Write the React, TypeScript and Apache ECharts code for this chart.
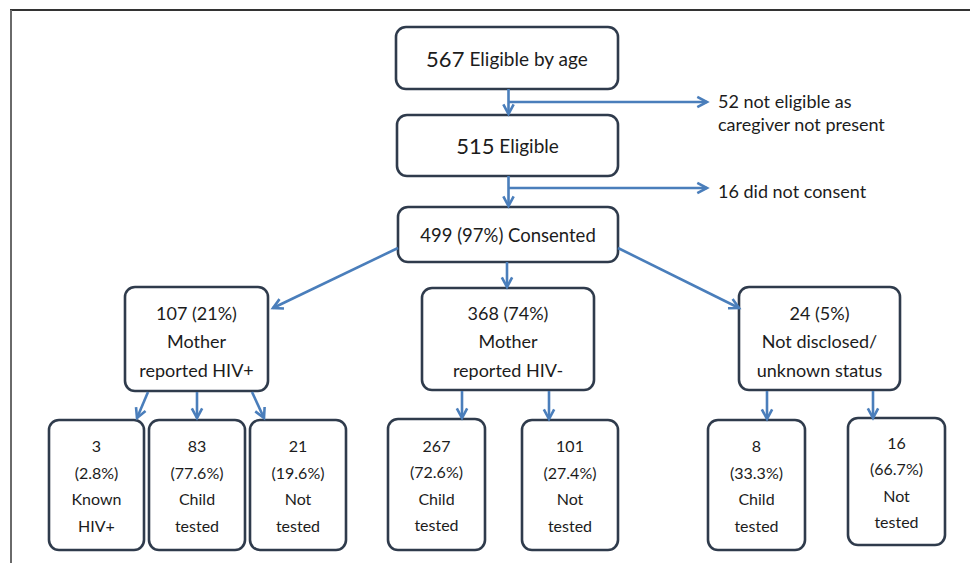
import React, { useEffect, useRef } from "react";
import * as echarts from "echarts";

// ---- data ----
const stageCounts = [567, 515, 499];
const stageLabels = ["Eligible by age", "Eligible", "(97%) Consented"];
const excludedCounts = [52, 16];
const excludedLabels = [["not eligible as", "caregiver not present"], ["did not consent"]];
const groupCounts = [107, 368, 24];
const groupPercents = ["21%", "74%", "5%"];
const groupLabels = [
  ["Mother", "reported HIV+"],
  ["Mother", "reported HIV-"],
  ["Not disclosed/", "unknown status"],
];
const outcomeCounts = [[3, 83, 21], [267, 101], [8, 16]];
const outcomePercents = [["2.8%", "77.6%", "19.6%"], ["72.6%", "27.4%"], ["33.3%", "66.7%"]];
const outcomeLabels = [
  [["Known", "HIV+"], ["Child", "tested"], ["Not", "tested"]],
  [["Child", "tested"], ["Not", "tested"]],
  [["Child", "tested"], ["Not", "tested"]],
];

// ---- layout (positions only) ----
const stageBoxes = [
  [396, 27, 222, 62],
  [397, 115, 221, 61],
  [398, 207, 220, 55],
];
const groupBoxes = [
  [125, 287, 143, 104],
  [422, 288, 172, 102],
  [739, 287, 161, 103],
];
const outcomeBoxes = [
  [[49, 420, 95, 130], [149, 420, 96, 130], [250, 420, 96, 130]],
  [[388, 419, 97, 131], [522, 420, 96, 130]],
  [[708, 420, 97, 130], [848, 418, 97, 127]],
];
const exclusionArrowY = [102, 188];
const exclusionText = [[718, 101], [718, 191]];

const BOX = "#2f3b4c";
const ARROW = "#4a7ebb";
const TXT = "#1c1c1c";
const FONT = "Lato";

function arrow(x1: number, y1: number, x2: number, y2: number): any[] {
  const ang = Math.atan2(y2 - y1, x2 - x1);
  const L = 11;
  const a = (28 * Math.PI) / 180;
  const p1 = [x2 - L * Math.cos(ang - a), y2 - L * Math.sin(ang - a)];
  const p2 = [x2 - L * Math.cos(ang + a), y2 - L * Math.sin(ang + a)];
  return [
    {
      type: "line",
      shape: { x1, y1, x2, y2 },
      style: { stroke: ARROW, lineWidth: 2.6 },
      z: 5,
    },
    {
      type: "polyline",
      shape: { points: [p1, [x2, y2], p2] },
      style: { stroke: ARROW, lineWidth: 2.6, fill: null },
      z: 5,
    },
  ];
}

function box(b: number[]): any {
  return {
    type: "rect",
    shape: { x: b[0], y: b[1], width: b[2], height: b[3], r: 10 },
    style: { fill: "#fff", stroke: BOX, lineWidth: 2.6 },
    z: 3,
  };
}

function text(x: number, y: number, t: string, size: number, lh: number, extra: any = {}): any {
  return {
    type: "text",
    x,
    y,
    z: 10,
    style: {
      text: t,
      fontFamily: FONT,
      fontSize: size,
      fill: TXT,
      align: "center",
      verticalAlign: "middle",
      textAlign: "center",
      textVerticalAlign: "middle",
      lineHeight: lh,
      ...extra,
    },
  };
}

function buildGraphics(): any[] {
  const els: any[] = [];
  // frame lines
  els.push({ type: "line", shape: { x1: 10, y1: 10, x2: 970, y2: 10 }, style: { stroke: "#333", lineWidth: 2 } });
  els.push({ type: "line", shape: { x1: 11, y1: 10, x2: 11, y2: 563 }, style: { stroke: "#6a6a6a", lineWidth: 2 } });

  // stage boxes
  stageBoxes.forEach((b, i) => {
    els.push(box(b));
    const cx = b[0] + b[2] / 2;
    const cy = b[1] + b[3] / 2;
    if (i < 2) {
      els.push(
        text(cx, cy, `{n|${stageCounts[i]}} {l|${stageLabels[i]}}`, 19, 26, {
          rich: {
            n: { fontFamily: FONT, fontSize: 22, fill: TXT },
            l: { fontFamily: FONT, fontSize: 19, fill: TXT },
          },
        })
      );
    } else {
      els.push(text(cx, cy, `${stageCounts[i]} ${stageLabels[i]}`, 18.5, 24));
    }
  });

  // stage arrows and exclusions
  const sx = 508.5;
  els.push(...arrow(sx, 89, sx, 114));
  els.push(...arrow(sx, 176, sx, 206));
  exclusionArrowY.forEach((y, i) => {
    els.push(...arrow(sx, y, 707, y));
    const [tx, ty] = exclusionText[i];
    const lines = excludedLabels[i].slice();
    lines[0] = `${excludedCounts[i]} ${lines[0]}`;
    els.push(
      text(tx, ty + ((lines.length - 1) * 23) / 2, lines.join("\n"), 18, 23, {
        align: "left",
        textAlign: "left",
      })
    );
  });

  // from consented to groups
  els.push(...arrow(398, 248, 273, 308));
  els.push(...arrow(507, 262, 507, 287));
  els.push(...arrow(618, 248, 739, 308));

  // groups
  groupBoxes.forEach((b, i) => {
    els.push(box(b));
    const cx = b[0] + b[2] / 2;
    const lines = [`${groupCounts[i]} (${groupPercents[i]})`, ...groupLabels[i]];
    els.push(text(cx, 341, lines.join("\n"), 18, 28.5));
  });

  // group -> outcomes arrows
  els.push(...arrow(148, 392, 137, 418));
  els.push(...arrow(197, 392, 197, 418));
  els.push(...arrow(252, 392, 264, 418));
  els.push(...arrow(462, 391, 462, 418));
  els.push(...arrow(549, 391, 549, 419));
  els.push(...arrow(767, 391, 767, 419));
  els.push(...arrow(873, 391, 873, 418));

  // outcomes
  outcomeBoxes.forEach((grp, g) => {
    grp.forEach((b, k) => {
      els.push(box(b));
      const cx = b[0] + b[2] / 2;
      const cy = b[1] + b[3] / 2 + 0.5;
      const lines = [
        `${outcomeCounts[g][k]}`,
        `(${outcomePercents[g][k]})`,
        ...outcomeLabels[g][k],
      ];
      els.push(text(cx, cy, lines.join("\n"), 16, 26.5));
    });
  });
  return els;
}

export default function App() {
  const ref = useRef<HTMLDivElement>(null);
  useEffect(() => {
    if (!ref.current) return;
    const chart = echarts.init(ref.current, null, { renderer: "svg" });
    chart.setOption({
      animation: false,
      backgroundColor: "#ffffff",
      graphic: { elements: buildGraphics() },
    });
    return () => chart.dispose();
  }, []);
  return (
    <div
      ref={ref}
      style={{ position: "fixed", left: 0, top: 0, width: 970, height: 563, background: "#fff" }}
    />
  );
}
